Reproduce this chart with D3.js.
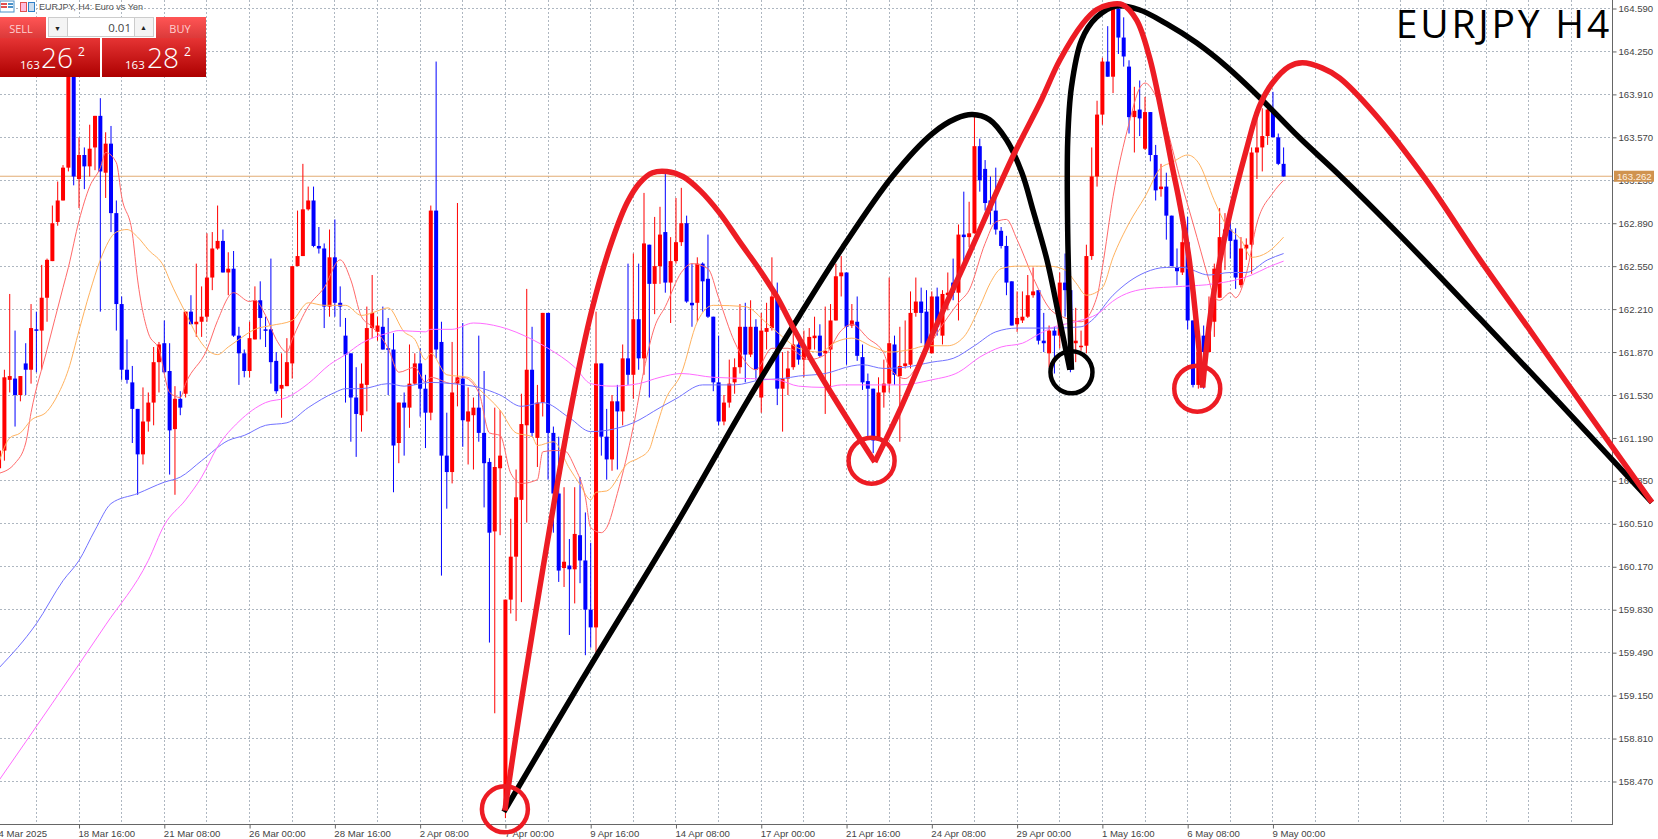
<!DOCTYPE html>
<html><head><meta charset="utf-8">
<script src="https://cdnjs.cloudflare.com/ajax/libs/d3/7.8.5/d3.min.js"></script>
<style>html,body{margin:0;padding:0;background:#fff;overflow:hidden}svg{display:block}</style>
</head><body><svg id="c" width="1658" height="839"></svg>
<script>
const firstBar = -1;
const opens = [160.95,161.09,161.65,161.66,161.53,161.78,161.73,162.05,162.04,162.30,
162.59,162.90,163.07,163.33,164.10,163.24,163.43,163.34,163.49,163.74,
163.29,163.52,162.97,162.25,161.73,161.63,161.42,161.06,161.32,161.47,
161.79,161.94,161.72,161.26,161.50,161.54,162.19,162.09,162.11,162.15,
162.46,162.69,162.75,162.50,162.53,162.00,161.86,161.72,161.97,162.28,
162.05,162.05,161.80,161.58,161.60,161.78,162.55,162.63,163.00,163.07,
162.71,162.69,162.23,162.62,162.26,162.00,161.86,161.51,161.37,161.61,
162.06,162.03,162.07,161.90,161.89,161.15,161.47,161.43,161.62,161.78,
161.58,161.39,162.99,161.95,161.05,160.92,161.62,161.66,161.32,161.37,
161.43,161.23,161.00,160.45,160.95,158.26,159.91,160.25,160.70,161.29,
161.73,161.19,161.47,162.18,161.23,160.75,160.16,160.18,160.15,160.42,
160.22,159.83,159.69,161.78,161.20,161.02,161.48,161.40,161.82,161.69,
162.13,161.82,162.72,162.41,162.55,162.82,162.42,162.59,162.74,162.89,
162.26,162.26,162.57,162.45,162.15,161.63,161.32,161.47,161.63,161.75,
162.07,161.85,162.07,161.51,162.03,162.06,162.31,161.58,161.66,161.75,
161.93,161.81,161.89,161.98,162.00,161.86,161.89,162.12,162.47,162.50,
162.08,162.11,161.83,161.64,161.58,161.17,161.55,161.62,161.93,161.68,
161.76,161.77,162.18,162.27,162.19,161.86,162.31,162.00,162.32,162.42,
162.34,162.80,162.78,162.81,163.50,163.32,163.07,162.99,162.83,162.71,
162.43,162.09,162.12,162.15,162.32,162.36,161.96,161.86,162.04,162.00,
162.42,162.36,161.94,161.91,161.92,162.63,163.26,163.75,164.17,164.05,
164.59,164.36,164.13,163.73,163.79,163.48,163.77,163.43,163.16,163.18,
162.95,162.54,162.50,162.74,162.12,161.61,162.00,161.87,162.11,162.30,
162.77,162.84,162.76,162.40,162.69,162.72,163.45,163.49,163.58,163.77,
163.57,163.36];
const highs = [161.09,161.73,162.33,162.04,161.68,161.94,162.25,162.19,162.56,162.61,
163.03,163.22,163.35,164.18,164.18,163.57,163.49,163.67,163.74,163.88,
163.61,163.66,163.07,162.31,161.97,161.76,161.42,161.59,161.55,161.91,
161.95,162.12,161.94,161.60,161.56,162.19,162.32,162.57,162.39,162.81,
162.82,163.03,162.84,162.66,162.67,162.07,161.89,162.11,162.39,162.43,
162.15,162.61,161.87,161.86,161.98,162.55,162.99,163.36,163.18,163.18,
162.86,162.73,162.84,162.92,162.39,162.14,161.86,161.75,161.78,162.23,
162.48,162.15,162.23,162.14,162.02,161.47,161.55,161.93,161.86,161.90,
161.69,163.03,164.17,162.11,161.39,161.95,163.05,162.10,161.59,161.51,
162.00,161.72,161.03,161.43,161.41,159.91,160.55,160.94,161.54,162.37,
162.07,161.61,162.18,162.18,161.28,161.20,160.80,160.39,160.80,160.88,
160.60,160.36,162.19,161.78,161.42,161.53,161.61,161.93,162.57,162.65,
162.57,163.13,162.72,162.94,163.02,163.29,162.78,163.09,163.17,162.95,
162.57,162.62,162.58,162.80,162.15,162.00,161.53,161.81,161.82,162.25,
162.26,162.28,162.13,162.18,162.26,162.62,162.42,161.87,161.88,162.12,
161.99,162.04,162.06,162.15,162.09,162.23,162.25,162.57,162.63,162.50,
162.25,162.31,161.93,161.70,161.58,161.67,161.81,162.46,162.00,162.07,
162.12,162.35,162.46,162.38,162.36,162.35,162.38,162.36,162.50,162.61,
162.88,163.14,163.06,163.75,163.56,163.39,163.26,163.33,162.86,162.79,
162.43,162.35,162.35,162.48,162.54,162.36,162.18,162.08,162.07,162.50,
162.65,162.36,162.22,162.04,162.72,163.49,163.86,164.20,164.45,164.59,
164.62,164.52,164.18,163.97,164.02,163.89,163.77,163.51,163.36,163.29,
162.95,162.69,162.86,162.94,162.12,161.87,162.08,162.31,162.57,163.01,
162.97,162.92,162.85,162.78,162.77,163.49,163.75,163.80,163.83,163.93,
163.60,163.49];
const lows = [160.62,161.01,161.55,161.28,161.48,161.53,161.62,161.71,161.73,162.11,
162.59,162.87,163.07,163.30,163.19,163.01,163.16,163.26,163.31,162.19,
163.09,162.82,162.04,161.65,161.62,161.15,160.74,160.98,161.24,161.29,
161.55,161.70,160.90,160.74,161.37,161.51,162.09,161.99,161.99,162.11,
162.36,162.68,162.50,162.32,161.99,161.61,161.67,161.67,161.97,161.97,
161.91,161.62,161.54,161.35,161.60,161.66,162.55,162.63,162.99,162.70,
162.65,162.06,162.15,162.15,162.07,161.47,161.16,161.04,161.24,161.40,
161.98,161.96,161.89,161.53,160.76,160.99,161.05,161.27,161.61,161.36,
161.11,161.33,161.82,160.10,160.63,160.83,161.44,161.12,160.98,160.94,
161.16,160.64,159.57,159.01,160.42,158.18,159.80,159.74,159.89,160.52,
161.20,160.96,161.36,160.86,160.44,160.05,160.01,159.63,159.88,160.04,
159.47,159.53,159.49,161.05,160.86,160.93,160.94,161.29,161.61,161.50,
161.73,161.69,161.51,162.17,162.41,162.34,162.10,162.57,162.71,162.26,
162.07,162.11,162.19,162.14,161.56,161.29,161.29,161.43,161.54,161.70,
161.63,161.83,161.65,161.39,161.89,162.04,161.45,161.24,161.53,161.73,
161.77,161.67,161.87,161.89,161.83,161.38,161.59,162.12,162.31,161.77,
162.06,161.80,161.57,161.20,161.07,161.17,161.43,161.55,161.61,161.16,
161.74,161.74,162.15,161.94,161.87,161.86,162.00,161.93,162.20,162.28,
162.12,162.54,162.70,162.81,163.14,162.99,162.88,162.80,162.69,162.32,
162.08,162.03,162.10,162.14,162.30,161.93,161.87,161.75,161.70,161.90,
162.15,161.71,161.79,161.88,161.86,162.60,163.18,163.67,164.05,163.92,
164.23,164.13,163.60,163.45,163.58,163.47,163.38,163.07,163.10,162.76,
162.55,162.40,162.48,162.05,161.59,161.58,161.58,161.87,161.99,162.30,
162.52,162.61,162.37,162.38,162.60,162.49,163.24,163.30,163.51,163.57,
163.35,163.26];
const closes = [161.09,161.67,161.68,161.53,161.68,161.73,162.06,162.04,162.30,162.60,
162.89,163.07,163.33,164.10,163.26,163.43,163.34,163.48,163.74,163.30,
163.52,162.97,162.25,161.73,161.65,161.42,161.06,161.32,161.47,161.79,
161.93,161.71,161.25,161.50,161.43,162.19,162.09,162.11,162.15,162.46,
162.69,162.75,162.50,162.53,162.00,161.86,161.72,161.98,162.28,162.14,
162.04,161.79,161.56,161.61,161.79,162.55,162.63,163.00,163.07,162.71,
162.69,162.23,162.62,162.26,162.23,161.85,161.51,161.38,161.62,162.06,
162.18,162.08,161.89,161.89,161.13,161.47,161.43,161.62,161.78,161.58,
161.39,162.99,161.89,161.05,160.92,161.55,161.67,161.33,161.40,161.43,
161.23,160.99,160.44,160.96,161.05,159.91,160.25,160.72,161.30,161.73,
161.23,161.47,162.18,161.23,160.75,160.14,160.21,160.15,160.43,160.22,
159.83,159.69,161.78,161.20,161.02,161.48,161.40,161.82,161.69,162.13,
161.82,162.73,162.41,162.55,162.80,162.42,162.59,162.74,162.89,162.27,
162.24,162.57,162.43,162.15,161.63,161.32,161.47,161.62,161.75,162.07,
161.85,162.07,161.73,162.04,162.06,162.31,161.58,161.66,161.74,161.93,
161.81,161.89,161.99,162.00,161.84,161.88,162.12,162.47,162.50,162.07,
162.12,161.84,161.63,161.58,161.17,161.55,161.62,161.94,161.69,161.76,
161.78,162.18,162.27,162.18,161.91,162.31,162.07,162.33,162.34,162.34,
162.80,162.78,162.81,163.50,163.23,163.05,162.99,162.84,162.71,162.42,
162.08,162.14,162.15,162.32,162.35,161.96,161.94,162.04,162.00,162.42,
162.36,161.73,161.96,161.92,162.63,163.26,163.75,164.17,164.05,164.59,
164.36,164.21,163.73,163.78,163.72,163.77,163.43,163.15,163.18,162.95,
162.55,162.51,162.74,162.12,161.61,161.87,161.87,162.11,162.53,162.78,
162.84,162.75,162.46,162.69,162.72,163.45,163.49,163.58,163.79,163.57,
163.36,163.26];

const fastBars = [-1,2,4,5,8,11,12,14,16,18,19,21,22,24,25,27,29,31,33,34,38,40,43,46,47,49,51,53,54,57,60,63,65,67,69,72,74,77,79,80,84,86,89,91,93,95,97,100,101,103,105,107,109,110,112,113,115,118,120,122,124,127,129,132,134,137,141,144,147,151,154,157,159,162,165,166,169,172,175,179,181,184,186,188,190,193,196,199,202,205,206,208,211,213,214,216,221,223,226,227,228,230,231,233,235,238,240];
const fastMA = [160.91,160.99,161.15,161.39,161.89,162.38,162.54,162.91,163.18,163.33,163.45,163.37,163.10,162.81,162.44,162.02,161.89,161.55,161.51,161.62,161.89,162.12,162.34,162.27,162.28,162.16,161.97,161.87,161.97,162.23,162.38,162.60,162.44,162.15,162.07,161.90,161.71,161.75,161.63,161.67,161.62,161.67,161.55,161.23,161.21,160.91,160.83,160.86,161.08,161.09,161.09,160.96,160.72,160.48,160.44,160.48,160.75,161.28,161.73,162.07,162.23,162.50,162.57,162.53,162.30,161.95,161.73,161.90,161.90,161.81,161.85,162.04,162.09,161.98,161.86,161.75,161.66,161.81,162.02,162.26,162.36,162.73,162.90,162.92,162.76,162.46,162.22,162.14,162.11,162.31,162.54,163.10,163.68,163.96,164.00,163.90,163.18,162.89,162.44,162.30,162.28,162.34,162.30,162.49,162.89,163.13,163.23];
const midBars = [-1,1,3,5,8,10,12,14,16,18,21,23,25,27,30,31,34,37,39,40,42,44,47,50,54,57,60,64,67,69,72,75,77,79,80,83,87,89,93,96,99,100,103,106,108,110,111,113,117,119,121,122,124,127,130,133,139,143,146,149,153,156,159,163,166,170,173,177,180,183,185,187,190,196,199,201,203,206,208,211,214,217,219,222,224,227,229,232,234,237,240];
const midMA = [161.00,161.19,161.23,161.33,161.40,161.53,161.73,162.04,162.34,162.60,162.82,162.84,162.78,162.68,162.54,162.44,162.18,161.94,161.86,161.85,161.91,161.97,162.05,162.08,162.12,162.26,162.24,162.24,162.16,162.18,162.22,162.03,161.97,161.81,161.86,161.69,161.67,161.58,161.41,161.23,161.20,161.13,161.16,160.95,160.82,160.70,160.76,160.77,160.99,161.03,161.10,161.23,161.49,161.70,162.11,162.24,162.23,162.10,161.99,161.90,161.87,161.95,161.98,161.91,161.87,161.89,161.92,161.92,161.99,162.23,162.42,162.53,162.55,162.55,162.52,162.42,162.32,162.38,162.62,162.89,163.10,163.33,163.37,163.43,163.37,163.07,162.89,162.76,162.62,162.66,162.78];
const slowBars = [-1,6,11,14,17,20,25,30,33,37,42,45,49,53,57,62,64,67,72,75,80,84,89,93,97,101,106,110,113,118,123,126,131,137,142,146,149,154,159,161,165,169,174,178,182,186,190,197,202,204,208,214,218,221,226,230,233,237,240];
const slowMA = [159.37,159.72,160.06,160.22,160.46,160.67,160.75,160.84,160.88,161.01,161.17,161.21,161.29,161.31,161.43,161.55,161.58,161.58,161.62,161.60,161.63,161.62,161.59,161.53,161.44,161.47,161.35,161.24,161.25,161.31,161.43,161.50,161.61,161.61,161.65,161.66,161.68,161.70,161.76,161.77,161.74,161.75,161.79,161.82,161.92,162.03,162.06,162.06,162.07,162.12,162.32,162.50,162.54,162.54,162.48,162.50,162.50,162.60,162.65];
const longBars = [-1,9,19,27,30,34,37,40,44,49,53,57,61,64,67,72,74,79,80,84,88,93,99,102,107,110,114,119,123,127,133,140,145,149,154,157,162,168,174,179,183,187,191,194,197,201,206,207,214,221,227,234,237,240];
const longMA = [158.48,159.09,159.71,160.22,160.50,160.70,160.88,161.12,161.32,161.47,161.51,161.62,161.77,161.85,161.94,162.02,162.04,162.03,162.05,162.05,162.10,162.07,161.97,161.90,161.75,161.62,161.60,161.62,161.67,161.70,161.67,161.66,161.65,161.60,161.59,161.61,161.61,161.61,161.65,161.71,161.83,161.91,161.94,162.01,162.07,162.11,162.20,162.24,162.37,162.39,162.41,162.48,162.54,162.59];

const redArc1Bars = [93.9,97.6,106.6,110.2,113.6,116.8,119.2,121.6,124.3,127.3,130.5,134.2,138,141.7,144.9,147.9,152.9,161,163.3];
const redArc1 = [158.24,159.27,161.49,162.20,162.70,163.05,163.21,163.29,163.30,163.26,163.15,162.97,162.74,162.52,162.31,162.07,161.70,161.15,161.00];
const redArc2Bars = [163.3,168,174.2,180.5,189.1,194.6,198,202.3,204.9,207.3,209.8,212.4,214.8,217.3,219.1,220.4,222.3,224.8];
const redArc2 = [161.00,161.41,162.02,162.60,163.41,163.87,164.18,164.47,164.58,164.62,164.62,164.50,164.21,163.73,163.34,163.07,162.60,161.59];
const redArc3Bars = [224.8,226.6,229.8,233,235.4,237.9,241,243.5,247.2,250.5,257,266.8,276.7,286.6,296.6,309.1];
const redArc3 = [161.59,162.26,162.94,163.47,163.81,164.00,164.13,164.16,164.12,164.04,163.76,163.23,162.61,162.02,161.42,160.68];
const blackArc1Bars = [93.7,108.3,126.1,139.5,149.2,157.3,166.6,174.1,178.6,181.6,184.8,188,190.9,193,195.6,198,199.9];
const blackArc1 = [158.23,159.27,160.51,161.49,162.16,162.70,163.26,163.60,163.72,163.75,163.71,163.55,163.29,162.99,162.60,162.12,161.73];
const blackArc2Bars = [200.2,199.5,199.5,200.2,202.1,204.9,208.6,212.9,218,223.6,229.3,235.4,242.9,250.5,261.7,276.7,291.7,309.1];
const blackArc2 = [161.73,162.81,163.55,163.97,164.34,164.52,164.61,164.58,164.47,164.32,164.13,163.89,163.57,163.27,162.80,162.14,161.47,160.68];
const redCircleBars = [93.9,162.7,223.8];
const redCirclePrices = [158.25,161.01,161.58];
const blackCircleBars = [200.2];
const blackCirclePrices = [161.71];

const priceTicks = [164.59,164.25,163.91,163.57,163.23,162.89,162.55,162.21,161.87,161.53,161.19,160.85,160.51,160.17,159.83,159.49,159.15,158.81,158.47];
const timeLabels = ["14 Mar 2025","18 Mar 16:00","21 Mar 08:00","26 Mar 00:00","28 Mar 16:00","2 Apr 08:00","7 Apr 00:00","9 Apr 16:00","14 Apr 08:00","17 Apr 00:00","21 Apr 16:00","24 Apr 08:00","29 Apr 00:00","1 May 16:00","6 May 08:00","9 May 00:00"];
const timeLabelBars = d3.range(-2, 239, 16);
const gridBars = d3.range(-2, 302, 8);
const lastPrice = 163.262;

const svg = d3.select('#c');
const x = d3.scaleLinear().domain([0,240]).range([4.4,1283.6]);
const y = d3.scaleLinear().domain([164.59,158.47]).range([8.5,781.5]);
const plotR = 1612.5, plotB = 824;
const defs = svg.append('defs');
defs.append('clipPath').attr('id','plot').append('rect').attr('x',0).attr('y',0).attr('width',plotR).attr('height',plotB);
function grad(id,a,b){const g=defs.append('linearGradient').attr('id',id).attr('x1',0).attr('y1',0).attr('x2',0).attr('y2',1);
  g.append('stop').attr('offset','0%').attr('stop-color',a);g.append('stop').attr('offset','100%').attr('stop-color',b);}
grad('hdr','#ff5555','#dc3a3a');grad('px','#e63434','#ad0000');

// grid
const gridCol='#aeb7c1';
const grid=svg.append('g').attr('stroke',gridCol).attr('stroke-width',1).attr('stroke-dasharray','2,2').attr('fill','none');
grid.selectAll('.h').data(priceTicks).join('line').attr('x1',0).attr('x2',plotR)
  .attr('y1',d=>Math.floor(y(d))+.5).attr('y2',d=>Math.floor(y(d))+.5);
grid.selectAll('.v').data(gridBars).join('line').attr('y1',0).attr('y2',plotB)
  .attr('x1',d=>Math.floor(x(d))+.5).attr('x2',d=>Math.floor(x(d))+.5);

const plot=svg.append('g').attr('clip-path','url(#plot)');
// last price line
plot.append('line').attr('x1',0).attr('x2',plotR).attr('y1',y(lastPrice)).attr('y2',y(lastPrice)).attr('stroke','#e2ab72').attr('stroke-width',1);

// candles
const bars=opens.map((o,k)=>({bar:firstBar+k,o,h:highs[k],l:lows[k],c:closes[k]}));
const colour=d=>d.c>=d.o?'#ff0000':'#0000ff';
plot.append('g').selectAll('line').data(bars).join('line')
  .attr('x1',d=>x(d.bar)).attr('x2',d=>x(d.bar)).attr('y1',d=>y(d.h)).attr('y2',d=>y(d.l))
  .attr('stroke',colour).attr('stroke-width',1);
plot.append('g').selectAll('rect').data(bars).join('rect')
  .attr('x',d=>x(d.bar)-2).attr('width',4)
  .attr('y',d=>y(Math.max(d.o,d.c)))
  .attr('height',d=>Math.max(1.5,Math.abs(y(d.o)-y(d.c))))
  .attr('fill',colour);

// moving averages
const maLine=d3.line().x(d=>x(d[0])).y(d=>y(d[1])).curve(d3.curveMonotoneX);
[[fastBars,fastMA,'#ff6a6a'],[midBars,midMA,'#ffb25e'],[slowBars,slowMA,'#7272ff'],[longBars,longMA,'#ff6cff']].forEach(([b,v,c])=>{
  plot.append('path').attr('d',maLine(b.map((k,n)=>[k,v[n]]))).attr('fill','none').attr('stroke',c).attr('stroke-width',1);
});

// axes
const axisY=d3.axisRight(y).tickValues(priceTicks).tickFormat(d3.format('.3f')).tickSize(4).tickPadding(2);
const gy=svg.append('g').attr('transform',`translate(${plotR},0)`).call(axisY);
const axisX=d3.axisBottom(x).tickValues(timeLabelBars).tickFormat((d,k)=>timeLabels[k]).tickSize(4).tickPadding(2);
const gx=svg.append('g').attr('transform',`translate(0,${plotB+.5})`).call(axisX);
[gy,gx].forEach(g=>{g.selectAll('.domain').remove();
  g.selectAll('line').attr('stroke','#666');
  g.selectAll('text').attr('fill','#444').style('font-family','"Liberation Sans",sans-serif').style('font-size','9.6px');});
gx.selectAll('text').attr('text-anchor','start').attr('dx','-1');
svg.append('line').attr('x1',plotR).attr('x2',plotR).attr('y1',0).attr('y2',plotB+1).attr('stroke','#666');
svg.append('line').attr('x1',0).attr('x2',plotR).attr('y1',plotB+.5).attr('y2',plotB+.5).attr('stroke','#666');

// last price tag
const tagY=y(lastPrice);
svg.append('rect').attr('x',1614).attr('y',tagY-5.5).attr('width',40).attr('height',11).attr('fill','#d0934f');
svg.append('text').attr('x',1617).attr('y',tagY+3.5).text(lastPrice.toFixed(3)).attr('fill','#fff1e0').style('font-family','"Liberation Sans",sans-serif').style('font-size','9.6px');

// hand drawn annotations
const arc=d3.line().x(d=>x(d[0])).y(d=>y(d[1])).curve(d3.curveCatmullRom.alpha(0.5));
const ann=svg.append('g').attr('fill','none').attr('stroke-linecap','butt').attr('stroke-linejoin','round');
[[blackArc1Bars,blackArc1,'#000'],[blackArc2Bars,blackArc2,'#000'],[redArc1Bars,redArc1,'#ed1c24'],[redArc2Bars,redArc2,'#ed1c24'],[redArc3Bars,redArc3,'#ed1c24']].forEach(([b,v,c])=>{
  ann.append('path').attr('d',arc(b.map((k,n)=>[k,v[n]]))).attr('stroke',c).attr('stroke-width',5.5);
});
ann.selectAll('.rc').data(redCircleBars).join('circle').attr('cx',d=>x(d)).attr('cy',(d,k)=>y(redCirclePrices[k])).attr('r',23).attr('stroke','#ed1c24').attr('stroke-width',4.5);
ann.append('g').selectAll('circle').data(blackCircleBars).join('circle').attr('cx',d=>x(d)).attr('cy',(d,k)=>y(blackCirclePrices[k])).attr('r',21).attr('stroke','#000').attr('stroke-width',4.5);

// chart title
svg.append('text').attr('x',1612).attr('y',38).attr('text-anchor','end').text('EURJPY H4').attr('fill','#000')
  .style('font-family','"Open Sans",sans-serif').style('font-size','39px').style('letter-spacing','2.8px');

// header
const hdr=svg.append('g');
hdr.append('rect').attr('x',0).attr('y',1).attr('width',14).attr('height',11).attr('fill','#fff').attr('stroke','#4a90c8');
hdr.append('rect').attr('x',1).attr('y',3).attr('width',6).attr('height',2).attr('fill','#e05050');
hdr.append('rect').attr('x',1).attr('y',6).attr('width',6).attr('height',2).attr('fill','#e05050');
hdr.append('rect').attr('x',8).attr('y',3).attr('width',5).attr('height',2).attr('fill','#4a90c8');
hdr.append('rect').attr('x',8).attr('y',6).attr('width',5).attr('height',2).attr('fill','#4a90c8');
hdr.append('rect').attr('x',20.5).attr('y',2.5).attr('width',6).attr('height',9).attr('fill','#fbd').attr('stroke','#e05050');
hdr.append('rect').attr('x',28.5).attr('y',2.5).attr('width',6).attr('height',9).attr('fill','#cde').attr('stroke','#3080c8');
hdr.append('text').attr('x',39).attr('y',10).text('EURJPY, H4:  Euro vs Yen').attr('fill','#555').style('font-family','"Liberation Sans",sans-serif').style('font-size','9px');

// one click trading panel
const p=svg.append('g').style('font-family','"Open Sans",sans-serif');
p.append('rect').attr('x',0).attr('y',17).attr('width',206).attr('height',60).attr('fill','#fff');
p.append('rect').attr('x',0).attr('y',17).attr('width',46).attr('height',21).attr('fill','url(#hdr)');
p.append('rect').attr('x',156).attr('y',17).attr('width',50).attr('height',21).attr('fill','url(#hdr)');
p.append('rect').attr('x',0).attr('y',38).attr('width',100).attr('height',39).attr('fill','url(#px)');
p.append('rect').attr('x',102).attr('y',38).attr('width',104).attr('height',39).attr('fill','url(#px)');
p.append('rect').attr('x',48.5).attr('y',17.5).attr('width',105).attr('height',19).attr('fill','#f4f4f4').attr('stroke','#ccc');
p.append('rect').attr('x',67.5).attr('y',17.5).attr('width',67).attr('height',19).attr('fill','#fff').attr('stroke','#ccc');
const t=(xx,yy,s,fs,col,anchor,w)=>p.append('text').attr('x',xx).attr('y',yy).text(s).attr('fill',col).attr('text-anchor',anchor||'start').style('font-size',fs+'px').style('font-weight',w||400);
t(21,33,'SELL',11,'#ffd0d0','middle');
t(180,33,'BUY',11,'#ffd0d0','middle');
t(131,32,'0.01',11.5,'#444','end');
t(57.5,31,'▼',7,'#222','middle');
t(143.5,30,'▲',7,'#222','middle');
t(20,69,'163',11.5,'#fff');
t(41,68,'26',28,'#fff','start',300);
t(78,56,'2',12,'#fff');
t(125,69,'163',11.5,'#fff');
t(147,68,'28',28,'#fff','start',300);
t(184,56,'2',12,'#fff');
</script></body></html>
